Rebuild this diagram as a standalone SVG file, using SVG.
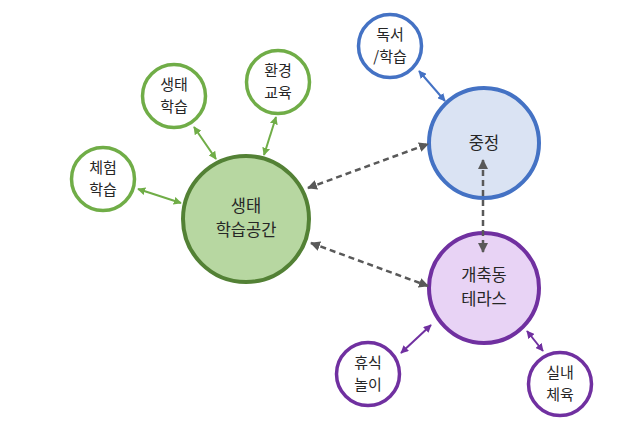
<svg xmlns="http://www.w3.org/2000/svg" width="629" height="431" viewBox="0 0 629 431">
<defs>
<style>
text{font-family:"Noto Sans CJK KR","Noto Sans",sans-serif;font-size:15px;fill:#262626;text-anchor:middle}
.big{font-size:16.5px}
.sg{fill:#fff;stroke:#70ad47;stroke-width:3.5}
.sb{fill:#fff;stroke:#4472c4;stroke-width:3.5}
.sp{fill:#fff;stroke:#7030a0;stroke-width:3.5}
.cg{stroke:#70ad47;stroke-width:2;fill:none}
.cb{stroke:#4472c4;stroke-width:2;fill:none}
.cp{stroke:#7030a0;stroke-width:2;fill:none}
.cd{stroke:#595959;stroke-width:2.5;stroke-dasharray:6 4;fill:none}
</style>
<marker id="mg" viewBox="0 0 10 10" refX="9" refY="5" markerWidth="4" markerHeight="4" orient="auto-start-reverse"><path d="M0,0L10,5L0,10z" fill="#70ad47"/></marker>
<marker id="mb" viewBox="0 0 10 10" refX="9" refY="5" markerWidth="4" markerHeight="4" orient="auto-start-reverse"><path d="M0,0L10,5L0,10z" fill="#4472c4"/></marker>
<marker id="mp" viewBox="0 0 10 10" refX="9" refY="5" markerWidth="4" markerHeight="4" orient="auto-start-reverse"><path d="M0,0L10,5L0,10z" fill="#7030a0"/></marker>
<marker id="md" viewBox="0 0 10 10" refX="9" refY="5" markerWidth="4" markerHeight="4" orient="auto-start-reverse"><path d="M0,0L10,5L0,10z" fill="#595959"/></marker>
</defs>
<g id="n-main"><circle cx="246" cy="219" r="63" fill="#b7d7a1" stroke="#538135" stroke-width="4"/>
<text class="big" x="246" y="212">생태</text><text class="big" x="246" y="236">학습공간</text></g>
<g id="n-eco"><circle class="sg" cx="174" cy="96" r="31.5"/><text x="174" y="90">생태</text><text x="174" y="112">학습</text></g>
<g id="n-env"><circle class="sg" cx="278" cy="82" r="31.5"/><text x="278" y="76">환경</text><text x="278" y="98">교육</text></g>
<g id="n-exp"><circle class="sg" cx="103" cy="179" r="31.5"/><text x="103" y="173">체험</text><text x="103" y="195">학습</text></g>
<g id="n-court"><circle cx="484" cy="143" r="55" fill="#dae3f3" stroke="#4472c4" stroke-width="4"/><text class="big" x="484" y="149">중정</text></g>
<g id="n-read"><circle class="sb" cx="390" cy="46" r="31.5"/><text x="390" y="40">독서</text><text x="390" y="62">/학습</text></g>
<g id="n-terr"><circle cx="484" cy="288" r="55" fill="#e8d3f5" stroke="#7030a0" stroke-width="4"/><text class="big" x="484" y="281">개축동</text><text class="big" x="484" y="305">테라스</text></g>
<g id="n-rest"><circle class="sp" cx="368" cy="374" r="31.5"/><text x="368" y="368">휴식</text><text x="368" y="390">놀이</text></g>
<g id="n-gym"><circle class="sp" cx="560" cy="384" r="31.5"/><text x="560" y="378">실내</text><text x="560" y="400">체육</text></g>
<g id="connectors">
<line class="cg" x1="138" y1="189" x2="181" y2="203" marker-start="url(#mg)" marker-end="url(#mg)"/>
<line class="cg" x1="194" y1="127" x2="216" y2="159" marker-start="url(#mg)" marker-end="url(#mg)"/>
<line class="cg" x1="276" y1="117" x2="264" y2="155" marker-start="url(#mg)" marker-end="url(#mg)"/>
<line class="cb" x1="419" y1="71" x2="445" y2="101" marker-start="url(#mb)" marker-end="url(#mb)"/>
<line class="cp" x1="401" y1="353" x2="431" y2="325" marker-start="url(#mp)" marker-end="url(#mp)"/>
<line class="cp" x1="527" y1="331" x2="543" y2="351" marker-start="url(#mp)" marker-end="url(#mp)"/>
<line class="cd" x1="308" y1="188" x2="428" y2="144" marker-start="url(#md)" marker-end="url(#md)"/>
<line class="cd" x1="311" y1="243" x2="428" y2="286" marker-start="url(#md)" marker-end="url(#md)"/>
<line class="cd" x1="483" y1="160" x2="483" y2="252" marker-start="url(#md)" marker-end="url(#md)"/>
</g>
</svg>
